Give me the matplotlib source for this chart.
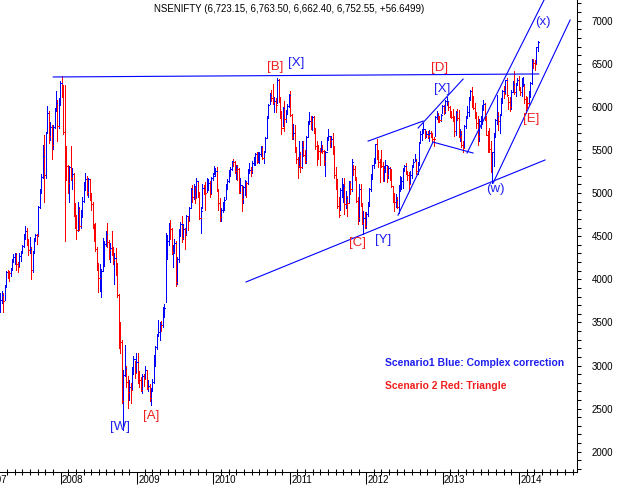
import numpy as np
import pandas as pd
import matplotlib
matplotlib.use("Agg")
import matplotlib.pyplot as plt
from matplotlib.ticker import MultipleLocator, FormatStrFormatter

# Weekly bars, one per week, the first week starts on this Monday
first_week = "2007-03-19"

# Weekly high / low / close (one line per year)
week_high = [
    3840, 3870, 3840, 3930, 4100, 4110, 4100, 4130, 4230, 4290, 4300, 4310, 4200, 4300, 4330, 4400, 4520, 4620, 4590, 4470, 4490, 4370, 4330, 4480, 4530, 4530, 4850, 5050, 5220, 5560, 5670, 5710, 6011, 5950, 5820, 5790, 5790, 5990, 6185, 6080, 6100,
    6300, 6357, 6250, 6250, 5550, 5330, 5320, 5545, 5290, 5230, 4890, 4750, 4900, 4840, 4800, 4950, 5130, 5230, 5200, 5170, 5160, 5000, 4900, 4640, 4650, 4380, 4190, 4180, 4120, 4480, 4440, 4560, 4650, 4460, 4420, 4560, 4380, 4310, 4360, 4190, 3830, 3500, 3300, 2950, 3240, 3000, 2880, 2830, 2800, 2980, 3110, 3050,
    3150, 3147, 2940, 2870, 2900, 2900, 2990, 2950, 2830, 2780, 2740, 2840, 3120, 3230, 3370, 3530, 3510, 3520, 3680, 3710, 4540, 4510, 4650, 4693, 4600, 4400, 4470, 4450, 4260, 4580, 4670, 4730, 4640, 4600, 4750, 4740, 4840, 5060, 5090, 5110, 5080, 5180, 5140, 5010, 4840, 5100, 5090, 5130, 5180, 5160, 5140, 5190,
    5230, 5310, 5290, 5300, 5050, 4940, 4830, 4900, 4950, 5100, 5160, 5270, 5300, 5370, 5400, 5370, 5330, 5330, 5290, 5180, 5090, 5080, 5150, 5140, 5280, 5350, 5300, 5370, 5420, 5470, 5480, 5480, 5480, 5550, 5550, 5490, 5650, 5900, 6030, 6160, 6200, 6270, 6120, 6100, 6338, 6320, 6120, 5950, 6000, 6070, 5960, 6030, 6150,
    6180, 5920, 5800, 5790, 5530, 5420, 5600, 5480, 5600, 5600, 5500, 5660, 5840, 5944, 5900, 5900, 5890, 5760, 5600, 5560, 5520, 5600, 5560, 5500, 5490, 5650, 5740, 5650, 5660, 5700, 5550, 5300, 5160, 4960, 5060, 5170, 5100, 5170, 5020, 4970, 5140, 5140, 5400, 5330, 5320, 5190, 4950, 5100, 5100, 4880, 4790, 4780,
    4780, 4900, 5060, 5220, 5330, 5410, 5570, 5630, 5500, 5400, 5500, 5360, 5310, 5380, 5330, 5320, 5300, 5280, 5080, 5000, 4990, 4960, 5090, 5200, 5190, 5290, 5330, 5350, 5260, 5240, 5260, 5330, 5400, 5450, 5390, 5360, 5590, 5720, 5740, 5815, 5740, 5720, 5720, 5730, 5720, 5700, 5650, 5890, 5950, 5930, 5900, 5915,
    6020, 6020, 6080, 6110, 6070, 6010, 5950, 5970, 5900, 5950, 5970, 5960, 5740, 5720, 5600, 5790, 5890, 6010, 6110, 6200, 6230, 6130, 6050, 5940, 5890, 5860, 5900, 6020, 6080, 6040, 5900, 5720, 5750, 5600, 5480, 5700, 5860, 6140, 5940, 5920, 6100, 6200, 6240, 6310, 6340, 6120, 6110, 6200, 6300, 6415, 6280, 6330,
    6360, 6230, 6330, 6350, 6270, 6130, 6120, 6180, 6290, 6560, 6560, 6540, 6700, 6763,
]
week_low = [
    3620, 3720, 3617, 3760, 3910, 4010, 3980, 4040, 4110, 4200, 4180, 4110, 4080, 4150, 4210, 4300, 4380, 4470, 4400, 4280, 4300, 4002, 4080, 4300, 4440, 4410, 4500, 4830, 5000, 5180, 4900, 5180, 5700, 5580, 5620, 5400, 5510, 5760, 5950, 5600, 5760,
    6020, 6110, 5680, 4448, 5150, 5000, 4900, 5150, 5050, 4740, 4600, 4468, 4560, 4570, 4590, 4720, 4900, 5040, 4980, 4960, 4920, 4800, 4600, 4440, 4330, 4110, 3850, 3860, 3790, 4100, 4150, 4390, 4380, 4230, 4200, 4280, 4180, 3950, 4050, 3790, 3200, 3150, 2565, 2252, 2880, 2750, 2502, 2600, 2570, 2730, 2900, 2850,
    2920, 2800, 2750, 2700, 2680, 2760, 2840, 2730, 2700, 2590, 2539, 2700, 2800, 3000, 3190, 3340, 3300, 3400, 3450, 3560, 3735, 4250, 4400, 4470, 4290, 4140, 4300, 3920, 3940, 4200, 4500, 4430, 4470, 4350, 4510, 4570, 4680, 4830, 4900, 4930, 4880, 4960, 4950, 4700, 4540, 4830, 4990, 4800, 5010, 5040, 4950, 4990,
    5150, 5220, 5200, 5030, 4800, 4680, 4680, 4780, 4800, 4930, 5050, 5130, 5200, 5270, 5320, 5230, 5160, 5150, 5000, 5000, 4790, 4880, 4980, 4960, 5100, 5230, 5200, 5230, 5330, 5330, 5350, 5360, 5350, 5430, 5400, 5350, 5480, 5640, 5870, 6030, 6070, 6030, 5940, 5940, 6050, 6060, 5870, 5690, 5780, 5720, 5830, 5920, 6000,
    5900, 5630, 5630, 5480, 5350, 5177, 5300, 5250, 5290, 5430, 5350, 5350, 5660, 5800, 5740, 5730, 5700, 5510, 5330, 5400, 5330, 5480, 5460, 5330, 5200, 5500, 5620, 5530, 5530, 5450, 5170, 5050, 4830, 4720, 4800, 4950, 4900, 4760, 4830, 4730, 4900, 4990, 5030, 5210, 5150, 4900, 4640, 4680, 4850, 4640, 4531, 4590,
    4590, 4740, 4850, 5030, 5160, 5290, 5350, 5400, 5300, 5130, 5300, 5140, 5140, 5250, 5130, 5180, 5150, 5070, 4900, 4790, 4840, 4830, 4770, 5030, 5050, 5060, 5260, 5220, 5150, 5030, 5100, 5180, 5300, 5370, 5220, 5220, 5330, 5590, 5620, 5700, 5640, 5650, 5640, 5600, 5650, 5600, 5550, 5660, 5860, 5830, 5820, 5840,
    5930, 5920, 5930, 6020, 5960, 5880, 5870, 5840, 5660, 5670, 5850, 5650, 5600, 5530, 5480, 5540, 5760, 5880, 5900, 6080, 6000, 5970, 5870, 5750, 5560, 5600, 5750, 5800, 5960, 5850, 5670, 5480, 5480, 5250, 5119, 5320, 5650, 5800, 5730, 5700, 5920, 6040, 6100, 6150, 6130, 5970, 5950, 5970, 6170, 6150, 6130, 6250,
    6200, 6140, 6130, 6240, 6050, 5933, 5990, 6030, 6120, 6270, 6450, 6430, 6500, 6650,
]
week_close = [
    3761, 3822, 3752, 3917, 4085, 4083, 4077, 4117, 4214, 4259, 4297, 4179, 4147, 4267, 4318, 4384, 4505, 4566, 4445, 4339, 4356, 4108, 4307, 4465, 4510, 4509, 4837, 5021, 5185, 5428, 5215, 5703, 5932, 5663, 5772, 5560, 5762, 5974, 6047, 5777, 6079,
    6274, 6200, 5705, 5383, 5317, 5120, 5302, 5180, 5224, 4771, 4745, 4573, 4830, 4617, 4772, 4911, 5111, 5165, 5011, 5158, 4946, 4870, 4627, 4517, 4347, 4136, 4016, 4049, 4092, 4311, 4413, 4529, 4430, 4337, 4360, 4353, 4229, 4245, 4143, 3818, 3279, 3269, 2584, 2885, 2973, 2810, 2693, 2755, 2714, 2921, 3077, 2916,
    3046, 2873, 2828, 2713, 2874, 2843, 2948, 2736, 2763, 2620, 2719, 2807, 3109, 3211, 3342, 3384, 3480, 3474, 3621, 3671, 4238, 4449, 4586, 4584, 4313, 4375, 4424, 3974, 4231, 4568, 4636, 4481, 4580, 4528, 4732, 4681, 4829, 5052, 4958, 5084, 4945, 5142, 4997, 4711, 4796, 5058, 5052, 5005, 5108, 5117, 4987, 5179,
    5200, 5245, 5252, 5036, 4882, 4718, 4801, 4845, 4922, 5088, 5137, 5262, 5282, 5368, 5361, 5262, 5304, 5278, 5018, 5093, 4931, 5066, 5135, 5119, 5262, 5269, 5251, 5352, 5393, 5449, 5367, 5439, 5452, 5530, 5408, 5479, 5640, 5885, 6018, 6143, 6103, 6062, 6066, 6017, 6312, 6071, 5890, 5752, 5992, 5857, 5948, 6011, 6135,
    5904, 5654, 5696, 5512, 5395, 5310, 5458, 5303, 5538, 5445, 5373, 5654, 5826, 5842, 5824, 5884, 5749, 5551, 5544, 5486, 5476, 5517, 5485, 5367, 5471, 5627, 5660, 5599, 5633, 5482, 5211, 5072, 4845, 4747, 5040, 5059, 5084, 4868, 4943, 4888, 5132, 5049, 5360, 5284, 5168, 4906, 4710, 5050, 4866, 4651, 4714, 4624,
    4754, 4866, 5049, 5204, 5325, 5381, 5564, 5429, 5359, 5333, 5317, 5278, 5296, 5322, 5207, 5290, 5190, 5087, 4929, 4892, 4921, 4842, 5068, 5139, 5146, 5279, 5317, 5227, 5205, 5100, 5215, 5320, 5366, 5387, 5259, 5342, 5578, 5691, 5703, 5747, 5676, 5684, 5665, 5698, 5686, 5631, 5627, 5880, 5907, 5880, 5848, 5908,
    6016, 5951, 6064, 6074, 5998, 5903, 5887, 5850, 5719, 5945, 5872, 5651, 5683, 5553, 5528, 5783, 5871, 5944, 6107, 6187, 6028, 5986, 5881, 5809, 5667, 5842, 5867, 6009, 6029, 5887, 5677, 5566, 5508, 5471, 5472, 5680, 5850, 5890, 5833, 5907, 6096, 6189, 6144, 6307, 6140, 6056, 5999, 6176, 6260, 6168, 6274, 6313,
    6211, 6171, 6262, 6267, 6089, 6063, 6048, 6155, 6277, 6527, 6504, 6494, 6696, 6752,
]

title_text = "NSENIFTY (6,723.15, 6,763.50, 6,662.40, 6,752.55, +56.6499)"
year_labels = [2007, 2008, 2009, 2010, 2011, 2012, 2013, 2014]

# Hand drawn trend lines: start year, start price, end year, end price
line_x0 = [2007.904, 2010.427, 2012.025, 2012.679, 2012.416, 2012.874, 2013.319, 2013.660]
line_y0 = [6347, 3969, 5603, 5755, 4744, 5592, 5465, 5115]
line_x1 = [2014.258, 2014.340, 2012.745, 2013.268, 2012.874, 2013.398, 2014.459, 2014.669]
line_y1 = [6382, 5384, 5836, 6323, 5592, 5465, 7472, 7008]

# Wave labels (blue = scenario 1, red = scenario 2)
wave_text = ["[B]", "[X]", "[D]", "[X]", "(x)", "[E]", "(w)", "[C]", "[Y]", "[W]", "[A]"]
wave_year = [2010.806, 2011.083, 2012.966, 2012.988, 2014.318, 2014.157, 2013.686, 2011.884, 2012.224, 2008.777, 2009.183]
wave_price = [6466, 6509, 6448, 6204, 6981, 5856, 5044, 4424, 4456, 2283, 2414]
wave_color = ["r", "b", "r", "b", "b", "r", "b", "r", "b", "b", "r"]

legend_text = ["Scenario1 Blue: Complex correction", "Scenario 2 Red: Triangle"]
legend_color = ["b", "r"]
legend_year = 2012.246
legend_price = [3029, 2762]

BLUE = "#0000ff"
RED = "#ff0000"
TEXT_COLORS = {"b": "#1e1ef0", "r": "#f01e1e"}
FONT = "Liberation Sans"


# Converting the week start dates to fractional years
def week_years(n):
    dates = pd.date_range(first_week, periods=n, freq="7D")
    days = np.where(dates.is_leap_year, 366.0, 365.0)
    return dates.year + (dates.dayofyear - 1) / days


def plot_chart(output_path):
    highs = np.array(week_high)
    lows = np.array(week_low)
    closes = np.array(week_close)
    x = week_years(len(closes))

    # up week in blue, down week in red
    prev = np.concatenate([[closes[0] - 1], closes[:-1]])
    colors = np.where(closes >= prev, BLUE, RED)

    fig = plt.figure(figsize=(6.18, 4.90), dpi=100)
    ax = fig.add_axes([0.0, 0.0361, 0.9332, 0.9639])

    ax.vlines(x, lows, highs, colors=colors, linewidth=0.55, antialiased=False)
    tick_w = 1.2 / 76.4
    ax.hlines(closes, x, x + tick_w, colors=colors, linewidth=0.55, antialiased=False)

    # trend lines
    for i in range(len(line_x0)):
        ax.plot([line_x0[i], line_x1[i]], [line_y0[i], line_y1[i]], color=BLUE, linewidth=0.8)

    # wave labels
    for t, wx, wy, c in zip(wave_text, wave_year, wave_price, wave_color):
        ax.text(wx, wy, t, color=TEXT_COLORS[c], fontsize=9.5, family=FONT,
                ha="center", va="center")

    for t, py, c in zip(legend_text, legend_price, legend_color):
        ax.text(legend_year, py, t, color=TEXT_COLORS[c], fontsize=7.5, family=FONT,
                fontweight="bold", ha="left", va="center")

    ax.set_xlim(2007.207, 2014.755)
    ax.set_ylim(1761, 7240)

    # axes frame: only bottom and right
    ax.spines["top"].set_visible(False)
    ax.spines["left"].set_visible(False)
    ax.spines["right"].set_linewidth(0.75)
    ax.spines["bottom"].set_linewidth(0.75)

    # price axis on the right
    ax.yaxis.tick_right()
    ax.yaxis.set_major_locator(MultipleLocator(500))
    ax.yaxis.set_minor_locator(MultipleLocator(100))
    ax.yaxis.set_major_formatter(FormatStrFormatter("%d"))
    ax.tick_params(axis="y", which="both", direction="out", length=3.2, width=0.75,
                   labelsize=7, pad=7.5)
    for lab in ax.get_yticklabels():
        lab.set_family(FONT)

    # time axis: year ticks plus small ticks in between
    ax.set_xticks(year_labels[1:])
    ax.set_xticklabels([])
    ax.xaxis.set_minor_locator(MultipleLocator(0.1))
    ax.tick_params(axis="x", which="major", direction="out", length=8.6, width=0.75)
    ax.tick_params(axis="x", which="minor", direction="inout", length=4.5, width=0.75)
    trans = ax.get_xaxis_transform()
    for yr in year_labels:
        ax.annotate(str(yr), xy=(yr, 0), xycoords=trans, xytext=(1.0, -2.0),
                    textcoords="offset points", ha="left", va="top",
                    fontsize=7, family=FONT, annotation_clip=False)

    fig.text(289 / 618, 1 - 9.3 / 490, title_text, ha="center", va="center",
             fontsize=7, family=FONT)

    fig.savefig(output_path, dpi=100)
    plt.close(fig)


def main():
    plot_chart("out.png")


if __name__ == "__main__":
    main()
